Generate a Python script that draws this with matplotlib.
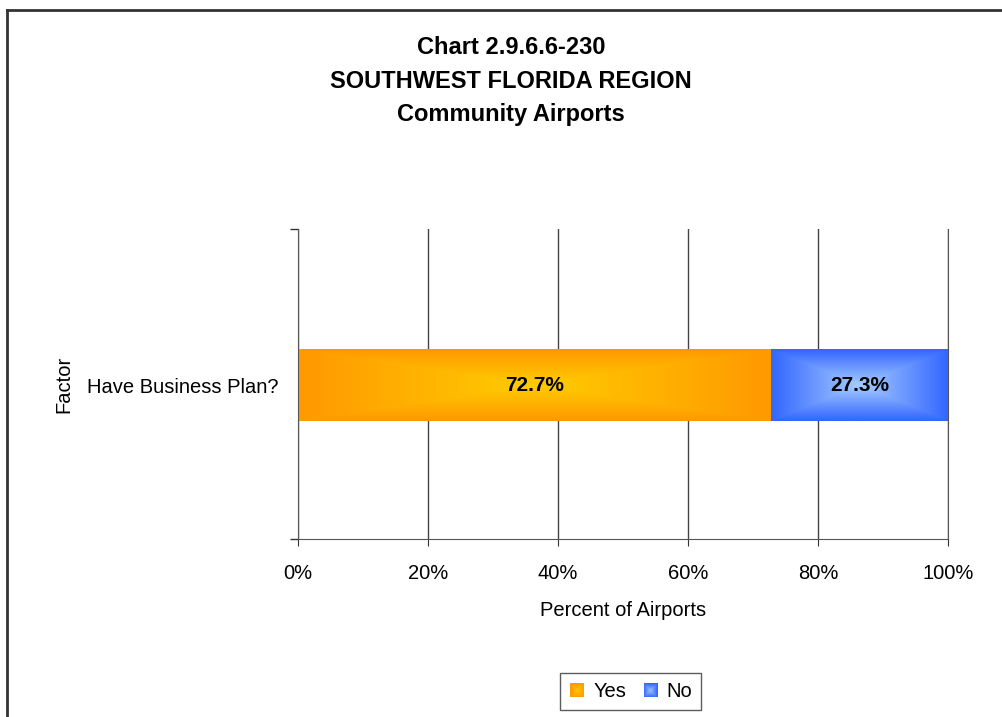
import numpy as np
import matplotlib
matplotlib.use("Agg")
import matplotlib.pyplot as plt
from matplotlib.colors import LinearSegmentedColormap
from matplotlib.lines import Line2D
from matplotlib.patches import Rectangle
from matplotlib.legend_handler import HandlerBase
from matplotlib.ticker import PercentFormatter

plt.rcParams['font.family'] = ['Liberation Sans', 'DejaVu Sans']

# data
categories = ["Have Business Plan?"]
series_names = ["Yes", "No"]
yes_pct = [72.7]
no_pct = [27.3]
x_ticks = [0, 20, 40, 60, 80, 100]

# gradient colours (edge -> centre)
grad_colors = {
    "Yes": ("#FF9900", "#FFCC00"),
    "No": ("#3366FF", "#A6CCFF"),
}


def box_gradient(n=200, m=60):
    u = np.abs(np.linspace(-1, 1, n))
    v = np.abs(np.linspace(-1, 1, m))
    return np.maximum(u[None, :], v[:, None])


class GradientSquare(HandlerBase):
    def __init__(self, name):
        super().__init__()
        self.name = name

    def create_artists(self, legend, orig_handle, xdescent, ydescent,
                       width, height, fontsize, trans):
        edge, centre = grad_colors[self.name]
        cmap = LinearSegmentedColormap.from_list("g", [centre, edge])
        size = height * 1.0
        x0 = -xdescent + (width - size) / 2
        y0 = -ydescent + (height - size) / 2
        arts = []
        steps = 8
        for i in range(steps):
            f = 1 - i / steps
            s = size * f
            r = Rectangle((x0 + (size - s) / 2, y0 + (size - s) / 2), s, s,
                          facecolor=cmap(f), edgecolor='none', transform=trans)
            arts.append(r)
        return arts


fig = plt.figure(figsize=(10.03, 7.17), dpi=100)
ax = fig.add_axes([0.2971, 0.2483, 0.6481, 0.4323])

bar_h = 0.23
y_pos = np.arange(len(categories))
series = {"Yes": yes_pct, "No": no_pct}
left = np.zeros(len(categories))
for name in series_names:
    vals = np.array(series[name])
    bars = ax.barh(y_pos, vals, left=left, height=bar_h, color='none', zorder=2)
    edge, centre = grad_colors[name]
    cmap = LinearSegmentedColormap.from_list(name, [centre, edge])
    for b, v in zip(bars, vals):
        x0, y0 = b.get_x(), b.get_y()
        ax.imshow(box_gradient(), cmap=cmap, vmin=0, vmax=1, aspect='auto',
                  extent=[x0, x0 + b.get_width(), y0, y0 + b.get_height()],
                  zorder=2, interpolation='bilinear')
        ax.text(x0 + b.get_width() / 2, y0 + b.get_height() / 2, f"{v:.1f}%",
                ha='center', va='center', fontsize=15, fontweight='bold', zorder=3)
    left = left + vals

ax.set_xlim(0, 100)
ax.set_ylim(-0.495, 0.505)
ax.set_xticks(x_ticks)
ax.xaxis.set_major_formatter(PercentFormatter(decimals=0))
ax.set_yticks(y_pos)
ax.set_yticklabels(categories)
ax.set_yticks([-0.495, 0.505], minor=True)
ax.tick_params(axis='y', which='major', length=0, pad=14, labelsize=14.5)
ax.tick_params(axis='y', which='minor', length=6, color='#333333', width=1)
ax.tick_params(axis='x', length=5, pad=13, labelsize=14.5, color='#333333')
ax.grid(axis='x', color='#444444', linewidth=1, zorder=0)
ax.set_axisbelow(True)
ax.spines['top'].set_visible(False)
for s in ['left', 'bottom', 'right']:
    ax.spines[s].set_color('#555555')

ax.set_xlabel("Percent of Airports", fontsize=14.5, labelpad=13)
ax.set_ylabel("Factor", fontsize=14.5, labelpad=10)

fig.text(0.5095, 0.934, "Chart 2.9.6.6-230", ha='center', va='center',
         fontsize=17, fontweight='bold')
fig.text(0.5095, 0.887, "SOUTHWEST FLORIDA REGION", ha='center', va='center',
         fontsize=17, fontweight='bold')
fig.text(0.5095, 0.840, "Community Airports", ha='center', va='center',
         fontsize=17, fontweight='bold')

handles = [Rectangle((0, 0), 1, 1) for _ in series_names]
leg = fig.legend(handles, series_names, loc='center', bbox_to_anchor=(0.629, 0.035),
                 ncol=2, fontsize=14.5, frameon=True, fancybox=False,
                 handler_map={h: GradientSquare(n) for h, n in zip(handles, series_names)},
                 handlelength=0.8, handletextpad=0.4, columnspacing=0.8,
                 borderpad=0.45)
leg.get_frame().set_edgecolor('#333333')
leg.get_frame().set_linewidth(1)

# outer chart border (left and top edges visible)
fig.add_artist(Line2D([0.007, 0.007], [0, 0.986], color='#333333', linewidth=2))
fig.add_artist(Line2D([0.007, 1], [0.986, 0.986], color='#333333', linewidth=2))

fig.savefig("out.png", dpi=100)
